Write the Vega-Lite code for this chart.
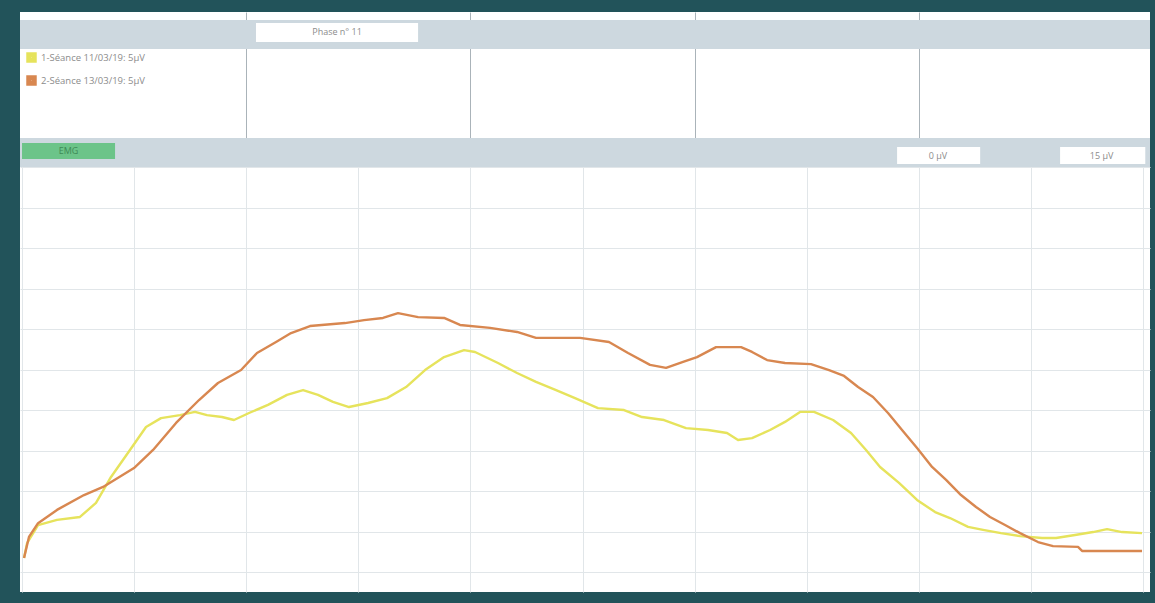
{
  "$schema": "https://vega.github.io/schema/vega-lite/v6.json",
  "background": "#22535a",
  "padding": {"left": 20, "top": 12, "right": 5, "bottom": 11},
  "spacing": 0,
  "config": {
    "view": {"stroke": null},
    "axis": {"labels": false, "ticks": false, "domain": false, "title": null, "minExtent": 0, "maxExtent": 0},
    "text": {"font": "Open Sans", "fontSize": 9, "color": "#8c8c8c"}
  },
  "datasets": {
    "emg": [
      {"s": "1-Séance 11/03/19: 5µV", "t": 0.18, "v": 0.52},
      {"s": "1-Séance 11/03/19: 5µV", "t": 0.45, "v": 1.07},
      {"s": "1-Séance 11/03/19: 5µV", "t": 1.43, "v": 1.74},
      {"s": "1-Séance 11/03/19: 5µV", "t": 3.12, "v": 1.93},
      {"s": "1-Séance 11/03/19: 5µV", "t": 5.17, "v": 2.04},
      {"s": "1-Séance 11/03/19: 5µV", "t": 6.6, "v": 2.56},
      {"s": "1-Séance 11/03/19: 5µV", "t": 7.94, "v": 3.52},
      {"s": "1-Séance 11/03/19: 5µV", "t": 9.63, "v": 4.52},
      {"s": "1-Séance 11/03/19: 5µV", "t": 11.06, "v": 5.37},
      {"s": "1-Séance 11/03/19: 5µV", "t": 12.4, "v": 5.7},
      {"s": "1-Séance 11/03/19: 5µV", "t": 14.09, "v": 5.81},
      {"s": "1-Séance 11/03/19: 5µV", "t": 15.43, "v": 5.93},
      {"s": "1-Séance 11/03/19: 5µV", "t": 16.5, "v": 5.81},
      {"s": "1-Séance 11/03/19: 5µV", "t": 17.84, "v": 5.74},
      {"s": "1-Séance 11/03/19: 5µV", "t": 18.91, "v": 5.63},
      {"s": "1-Séance 11/03/19: 5µV", "t": 20.25, "v": 5.89},
      {"s": "1-Séance 11/03/19: 5µV", "t": 21.94, "v": 6.19},
      {"s": "1-Séance 11/03/19: 5µV", "t": 23.64, "v": 6.56},
      {"s": "1-Séance 11/03/19: 5µV", "t": 25.07, "v": 6.74},
      {"s": "1-Séance 11/03/19: 5µV", "t": 26.4, "v": 6.56},
      {"s": "1-Séance 11/03/19: 5µV", "t": 27.74, "v": 6.3},
      {"s": "1-Séance 11/03/19: 5µV", "t": 29.17, "v": 6.11},
      {"s": "1-Séance 11/03/19: 5µV", "t": 30.87, "v": 6.26},
      {"s": "1-Séance 11/03/19: 5µV", "t": 32.56, "v": 6.44},
      {"s": "1-Séance 11/03/19: 5µV", "t": 34.26, "v": 6.85},
      {"s": "1-Séance 11/03/19: 5µV", "t": 35.95, "v": 7.48},
      {"s": "1-Séance 11/03/19: 5µV", "t": 37.65, "v": 7.96},
      {"s": "1-Séance 11/03/19: 5µV", "t": 39.43, "v": 8.22},
      {"s": "1-Séance 11/03/19: 5µV", "t": 40.41, "v": 8.15},
      {"s": "1-Séance 11/03/19: 5µV", "t": 42.46, "v": 7.74},
      {"s": "1-Séance 11/03/19: 5µV", "t": 44.16, "v": 7.37},
      {"s": "1-Séance 11/03/19: 5µV", "t": 45.85, "v": 7.04},
      {"s": "1-Séance 11/03/19: 5µV", "t": 47.64, "v": 6.74},
      {"s": "1-Séance 11/03/19: 5µV", "t": 49.33, "v": 6.44},
      {"s": "1-Séance 11/03/19: 5µV", "t": 51.38, "v": 6.07},
      {"s": "1-Séance 11/03/19: 5µV", "t": 53.7, "v": 6.0},
      {"s": "1-Séance 11/03/19: 5µV", "t": 55.31, "v": 5.74},
      {"s": "1-Séance 11/03/19: 5µV", "t": 57.27, "v": 5.63},
      {"s": "1-Séance 11/03/19: 5µV", "t": 59.23, "v": 5.33},
      {"s": "1-Séance 11/03/19: 5µV", "t": 61.2, "v": 5.26},
      {"s": "1-Séance 11/03/19: 5µV", "t": 62.89, "v": 5.15},
      {"s": "1-Séance 11/03/19: 5µV", "t": 63.87, "v": 4.89},
      {"s": "1-Séance 11/03/19: 5µV", "t": 65.12, "v": 4.96},
      {"s": "1-Séance 11/03/19: 5µV", "t": 66.73, "v": 5.26},
      {"s": "1-Séance 11/03/19: 5µV", "t": 68.06, "v": 5.56},
      {"s": "1-Séance 11/03/19: 5µV", "t": 69.4, "v": 5.93},
      {"s": "1-Séance 11/03/19: 5µV", "t": 70.65, "v": 5.93},
      {"s": "1-Séance 11/03/19: 5µV", "t": 72.35, "v": 5.63},
      {"s": "1-Séance 11/03/19: 5µV", "t": 73.95, "v": 5.15},
      {"s": "1-Séance 11/03/19: 5µV", "t": 75.29, "v": 4.52},
      {"s": "1-Séance 11/03/19: 5µV", "t": 76.54, "v": 3.89},
      {"s": "1-Séance 11/03/19: 5µV", "t": 78.23, "v": 3.3},
      {"s": "1-Séance 11/03/19: 5µV", "t": 79.84, "v": 2.67},
      {"s": "1-Séance 11/03/19: 5µV", "t": 81.45, "v": 2.22},
      {"s": "1-Séance 11/03/19: 5µV", "t": 82.78, "v": 2.0},
      {"s": "1-Séance 11/03/19: 5µV", "t": 84.39, "v": 1.67},
      {"s": "1-Séance 11/03/19: 5µV", "t": 85.73, "v": 1.56},
      {"s": "1-Séance 11/03/19: 5µV", "t": 87.33, "v": 1.44},
      {"s": "1-Séance 11/03/19: 5µV", "t": 89.03, "v": 1.33},
      {"s": "1-Séance 11/03/19: 5µV", "t": 90.99, "v": 1.26},
      {"s": "1-Séance 11/03/19: 5µV", "t": 92.24, "v": 1.26},
      {"s": "1-Séance 11/03/19: 5µV", "t": 93.93, "v": 1.37},
      {"s": "1-Séance 11/03/19: 5µV", "t": 95.54, "v": 1.48},
      {"s": "1-Séance 11/03/19: 5µV", "t": 96.79, "v": 1.59},
      {"s": "1-Séance 11/03/19: 5µV", "t": 98.13, "v": 1.48},
      {"s": "1-Séance 11/03/19: 5µV", "t": 99.91, "v": 1.44},
      {"s": "2-Séance 13/03/19: 5µV", "t": 0.18, "v": 0.52},
      {"s": "2-Séance 13/03/19: 5µV", "t": 0.62, "v": 1.3},
      {"s": "2-Séance 13/03/19: 5µV", "t": 1.43, "v": 1.81},
      {"s": "2-Séance 13/03/19: 5µV", "t": 3.12, "v": 2.3},
      {"s": "2-Séance 13/03/19: 5µV", "t": 5.53, "v": 2.85},
      {"s": "2-Séance 13/03/19: 5µV", "t": 7.23, "v": 3.15},
      {"s": "2-Séance 13/03/19: 5µV", "t": 9.99, "v": 3.85},
      {"s": "2-Séance 13/03/19: 5µV", "t": 11.69, "v": 4.52},
      {"s": "2-Séance 13/03/19: 5µV", "t": 13.74, "v": 5.52},
      {"s": "2-Séance 13/03/19: 5µV", "t": 15.79, "v": 6.37},
      {"s": "2-Séance 13/03/19: 5µV", "t": 17.48, "v": 7.0},
      {"s": "2-Séance 13/03/19: 5µV", "t": 19.54, "v": 7.48},
      {"s": "2-Séance 13/03/19: 5µV", "t": 20.96, "v": 8.11},
      {"s": "2-Séance 13/03/19: 5µV", "t": 22.66, "v": 8.52},
      {"s": "2-Séance 13/03/19: 5µV", "t": 24.0, "v": 8.85},
      {"s": "2-Séance 13/03/19: 5µV", "t": 25.69, "v": 9.11},
      {"s": "2-Séance 13/03/19: 5µV", "t": 28.81, "v": 9.22},
      {"s": "2-Séance 13/03/19: 5µV", "t": 30.51, "v": 9.33},
      {"s": "2-Séance 13/03/19: 5µV", "t": 32.2, "v": 9.41},
      {"s": "2-Séance 13/03/19: 5µV", "t": 33.54, "v": 9.59},
      {"s": "2-Séance 13/03/19: 5µV", "t": 35.33, "v": 9.44},
      {"s": "2-Séance 13/03/19: 5µV", "t": 37.65, "v": 9.41},
      {"s": "2-Séance 13/03/19: 5µV", "t": 39.07, "v": 9.15},
      {"s": "2-Séance 13/03/19: 5µV", "t": 41.75, "v": 9.04},
      {"s": "2-Séance 13/03/19: 5µV", "t": 44.16, "v": 8.89},
      {"s": "2-Séance 13/03/19: 5µV", "t": 45.85, "v": 8.67},
      {"s": "2-Séance 13/03/19: 5µV", "t": 47.28, "v": 8.67},
      {"s": "2-Séance 13/03/19: 5µV", "t": 49.78, "v": 8.67},
      {"s": "2-Séance 13/03/19: 5µV", "t": 52.36, "v": 8.52},
      {"s": "2-Séance 13/03/19: 5µV", "t": 54.06, "v": 8.11},
      {"s": "2-Séance 13/03/19: 5µV", "t": 56.02, "v": 7.67},
      {"s": "2-Séance 13/03/19: 5µV", "t": 57.45, "v": 7.56},
      {"s": "2-Séance 13/03/19: 5µV", "t": 58.97, "v": 7.78},
      {"s": "2-Séance 13/03/19: 5µV", "t": 60.21, "v": 7.96},
      {"s": "2-Séance 13/03/19: 5µV", "t": 61.91, "v": 8.33},
      {"s": "2-Séance 13/03/19: 5µV", "t": 64.14, "v": 8.33},
      {"s": "2-Séance 13/03/19: 5µV", "t": 65.12, "v": 8.15},
      {"s": "2-Séance 13/03/19: 5µV", "t": 66.46, "v": 7.85},
      {"s": "2-Séance 13/03/19: 5µV", "t": 68.06, "v": 7.74},
      {"s": "2-Séance 13/03/19: 5µV", "t": 70.38, "v": 7.7},
      {"s": "2-Séance 13/03/19: 5µV", "t": 71.99, "v": 7.48},
      {"s": "2-Séance 13/03/19: 5µV", "t": 73.33, "v": 7.26},
      {"s": "2-Séance 13/03/19: 5µV", "t": 74.58, "v": 6.85},
      {"s": "2-Séance 13/03/19: 5µV", "t": 75.91, "v": 6.48},
      {"s": "2-Séance 13/03/19: 5µV", "t": 77.25, "v": 5.89},
      {"s": "2-Séance 13/03/19: 5µV", "t": 78.5, "v": 5.26},
      {"s": "2-Séance 13/03/19: 5µV", "t": 79.84, "v": 4.59},
      {"s": "2-Séance 13/03/19: 5µV", "t": 81.18, "v": 3.89},
      {"s": "2-Séance 13/03/19: 5µV", "t": 82.43, "v": 3.41},
      {"s": "2-Séance 13/03/19: 5µV", "t": 83.76, "v": 2.85},
      {"s": "2-Séance 13/03/19: 5µV", "t": 85.1, "v": 2.41},
      {"s": "2-Séance 13/03/19: 5µV", "t": 86.35, "v": 2.04},
      {"s": "2-Séance 13/03/19: 5µV", "t": 87.69, "v": 1.74},
      {"s": "2-Séance 13/03/19: 5µV", "t": 89.03, "v": 1.44},
      {"s": "2-Séance 13/03/19: 5µV", "t": 90.63, "v": 1.11},
      {"s": "2-Séance 13/03/19: 5µV", "t": 91.97, "v": 0.96},
      {"s": "2-Séance 13/03/19: 5µV", "t": 94.2, "v": 0.93},
      {"s": "2-Séance 13/03/19: 5µV", "t": 94.56, "v": 0.78},
      {"s": "2-Séance 13/03/19: 5µV", "t": 99.91, "v": 0.78}
    ]
  },
  "vconcat": [
    {
      "width": 1130,
      "height": 155,
      "view": {"fill": "white", "stroke": null},
      "layer": [
        {
          "data": {"values": [{"part": "top band"}]},
          "mark": {"type": "rect", "color": "#cdd8df"},
          "encoding": {
            "x": {"datum": -0.18, "type": "quantitative", "scale": {"domain": [-0.18, 100.62], "nice": false, "zero": false},
                  "axis": {"values": [20, 40, 60, 80], "grid": true, "gridColor": "#aab3b9", "gridWidth": 1}},
            "x2": {"datum": 100.62},
            "y": {"datum": 9.48, "type": "quantitative", "scale": {"domain": [0, 10], "nice": false, "zero": false}, "axis": null},
            "y2": {"datum": 7.61}
          }
        },
        {
          "data": {"values": [{"part": "bottom band"}]},
          "mark": {"type": "rect", "color": "#cdd8df"},
          "encoding": {
            "x": {"datum": -0.18, "type": "quantitative"},
            "x2": {"datum": 100.62},
            "y": {"datum": 1.87, "type": "quantitative"},
            "y2": {"datum": 0}
          }
        },
        {
          "data": {"values": [{"label": "Phase n° 11"}]},
          "layer": [
            {
              "mark": {"type": "rect", "color": "white"},
              "encoding": {
                "x": {"datum": 20.87, "type": "quantitative"},
                "x2": {"datum": 35.33},
                "y": {"datum": 9.29, "type": "quantitative"},
                "y2": {"datum": 8.06}
              }
            },
            {
              "mark": {"type": "text", "align": "center", "baseline": "middle"},
              "encoding": {
                "x": {"datum": 28.1, "type": "quantitative"},
                "y": {"datum": 8.68, "type": "quantitative"},
                "text": {"field": "label"}
              }
            }
          ]
        },
        {
          "data": {"values": [{"label": "EMG"}]},
          "layer": [
            {
              "mark": {"type": "rect", "color": "#6cc489"},
              "encoding": {
                "x": {"datum": 0, "type": "quantitative"},
                "x2": {"datum": 8.3},
                "y": {"datum": 1.55, "type": "quantitative"},
                "y2": {"datum": 0.52}
              }
            },
            {
              "mark": {"type": "text", "align": "center", "baseline": "middle", "color": "#3f8a57"},
              "encoding": {
                "x": {"datum": 4.15, "type": "quantitative"},
                "y": {"datum": 1.03, "type": "quantitative"},
                "text": {"field": "label"}
              }
            }
          ]
        },
        {
          "data": {"values": [{"label": "0 µV"}]},
          "layer": [
            {
              "mark": {"type": "rect", "color": "white"},
              "encoding": {
                "x": {"datum": 78.06, "type": "quantitative"},
                "x2": {"datum": 85.47},
                "y": {"datum": 1.29, "type": "quantitative"},
                "y2": {"datum": 0.19}
              }
            },
            {
              "mark": {"type": "text", "align": "center", "baseline": "middle"},
              "encoding": {
                "x": {"datum": 81.7, "type": "quantitative"},
                "y": {"datum": 0.74, "type": "quantitative"},
                "text": {"field": "label"}
              }
            }
          ]
        },
        {
          "data": {"values": [{"label": "15 µV"}]},
          "layer": [
            {
              "mark": {"type": "rect", "color": "white"},
              "encoding": {
                "x": {"datum": 92.6, "type": "quantitative"},
                "x2": {"datum": 100.2},
                "y": {"datum": 1.29, "type": "quantitative"},
                "y2": {"datum": 0.19}
              }
            },
            {
              "mark": {"type": "text", "align": "center", "baseline": "middle"},
              "encoding": {
                "x": {"datum": 96.3, "type": "quantitative"},
                "y": {"datum": 0.74, "type": "quantitative"},
                "text": {"field": "label"}
              }
            }
          ]
        }
      ]
    },
    {
      "width": 1130,
      "height": 425,
      "view": {"fill": "white", "stroke": null},
      "data": {"name": "emg"},
      "mark": {"type": "line", "strokeWidth": 2.4, "strokeJoin": "round"},
      "encoding": {
        "x": {"field": "t", "type": "quantitative",
              "scale": {"domain": [-0.18, 100.62], "nice": false, "zero": false},
              "axis": {"values": [0, 10, 20, 30, 40, 50, 60, 70, 80, 90, 100], "grid": true, "gridColor": "#e1e6e9", "gridWidth": 1}},
        "y": {"field": "v", "type": "quantitative",
              "scale": {"domain": [-0.74, 15], "nice": false, "zero": false},
              "axis": {"values": [0, 1.5, 3, 4.5, 6, 7.5, 9, 10.5, 12, 13.5, 15], "grid": true, "gridColor": "#e1e6e9", "gridWidth": 1}},
        "color": {"field": "s", "type": "nominal",
                  "scale": {"domain": ["1-Séance 11/03/19: 5µV", "2-Séance 13/03/19: 5µV"], "range": ["#e6e35c", "#d88750"]},
                  "legend": {"orient": "none", "legendX": 6, "legendY": 40, "title": null, "direction": "vertical",
                             "symbolType": "square", "symbolSize": 30, "symbolStrokeWidth": 5,
                             "labelFontSize": 9.5, "labelFont": "Open Sans", "labelColor": "#8c8c8c",
                             "rowPadding": -4, "labelOffset": 4, "padding": 0}}
      }
    }
  ]
}
